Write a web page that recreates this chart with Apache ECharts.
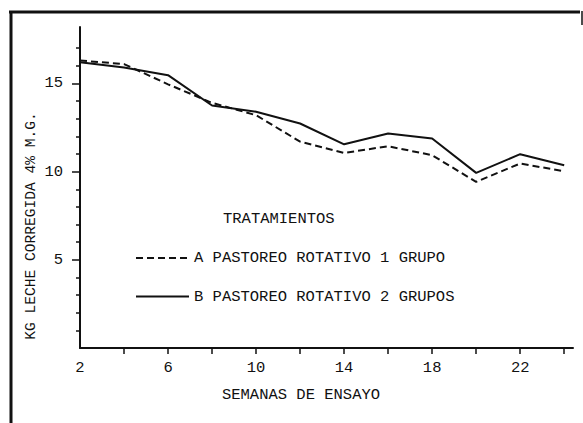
<!DOCTYPE html>
<html>
<head>
<meta charset="utf-8">
<script src="https://cdn.jsdelivr.net/npm/echarts@6/dist/echarts.min.js"></script>
<style>
html,body{margin:0;padding:0;background:#fff;}
#chart{width:583px;height:423px;}
</style>
</head>
<body>
<div id="chart"></div>
<script>
// Data
const weeks = [2, 4, 6, 8, 10, 12, 14, 16, 18, 20, 22, 24];
const seriesA = [16.3, 16.1, 14.95, 13.9, 13.2, 11.7, 11.06, 11.44, 10.93, 9.42, 10.46, 10.02]; // A PASTOREO ROTATIVO 1 GRUPO (dashed)
const seriesB = [16.2, 15.9, 15.47, 13.75, 13.4, 12.73, 11.55, 12.16, 11.88, 9.93, 10.99, 10.36]; // B PASTOREO ROTATIVO 2 GRUPOS (solid)
const nameA = 'A PASTOREO ROTATIVO 1 GRUPO';
const nameB = 'B PASTOREO ROTATIVO 2 GRUPOS';
const xTickValues = [4, 6, 8, 10, 12, 14, 16, 18, 20, 22, 24];
const xLabelValues = [2, 6, 10, 14, 18, 22];
const yMajorValues = [5, 10, 15];
const yMinorValues = [1, 2, 3, 4, 6, 7, 8, 9, 11, 12, 13, 14, 16, 17];
const xTitle = 'SEMANAS DE ENSAYO';
const yTitle = 'KG LECHE CORREGIDA 4% M.G.';
const legendTitle = 'TRATAMIENTOS';

const FONT = '"Liberation Mono", "DejaVu Sans Mono", monospace';
const INK = '#111';

const chart = echarts.init(document.getElementById('chart'), null, {renderer: 'svg'});
const pairs = (vals) => weeks.map((w, i) => [w, vals[i]]);

chart.setOption({
  backgroundColor: '#fff',
  animation: false,
  grid: {left: 80, top: 27, right: 10, bottom: 75, containLabel: false},
  xAxis: {
    type: 'value', min: 2, max: 24.4,
    axisLine: {show: true, lineStyle: {color: INK, width: 2}},
    axisTick: {show: true, customValues: xTickValues, length: 6, lineStyle: {color: INK, width: 1.5}},
    axisLabel: {customValues: xLabelValues, margin: 12, color: INK, fontFamily: FONT, fontSize: 15.5},
    splitLine: {show: false}
  },
  yAxis: [{
    type: 'value', min: 0, max: 18.2, position: 'left',
    axisLine: {show: true, lineStyle: {color: INK, width: 2}},
    axisTick: {show: true, customValues: yMajorValues, length: 8, lineStyle: {color: INK, width: 1.5}},
    axisLabel: {customValues: yMajorValues, margin: 17, color: INK, fontFamily: FONT, fontSize: 15.5},
    splitLine: {show: false}
  }, {
    type: 'value', min: 0, max: 18.2, position: 'left',
    axisLine: {show: false},
    axisTick: {show: true, customValues: yMinorValues, length: 4, lineStyle: {color: INK, width: 1.5}},
    axisLabel: {show: false},
    splitLine: {show: false}
  }],
  legend: {
    orient: 'vertical', left: 130, top: 245, itemWidth: 53, itemHeight: 14, itemGap: 22.6,
    itemStyle: {opacity: 0, color: 'transparent', borderColor: 'transparent', borderWidth: 0},
    textStyle: {color: INK, fontFamily: FONT, fontSize: 15.5},
    data: [nameA, nameB]
  },
  series: [{
    name: nameA, type: 'line', yAxisIndex: 0, data: pairs(seriesA),
    symbol: 'none', lineStyle: {color: INK, width: 2, type: [7, 4]}, itemStyle: {color: INK}
  }, {
    name: nameB, type: 'line', yAxisIndex: 0, data: pairs(seriesB),
    symbol: 'none', lineStyle: {color: INK, width: 2}, itemStyle: {color: INK}
  }],
  graphic: [
    {type: 'line', shape: {x1: 11, y1: 11, x2: 11, y2: 423}, style: {stroke: INK, lineWidth: 3}, silent: true},
    {type: 'line', shape: {x1: 9, y1: 12, x2: 580, y2: 12}, style: {stroke: INK, lineWidth: 3}, silent: true},
    {type: 'line', shape: {x1: 582, y1: 11, x2: 582, y2: 25}, style: {stroke: INK, lineWidth: 1.5}, silent: true},
    {type: 'text', x: 223, y: 219, style: {text: legendTitle, fill: INK, font: '15.5px ' + FONT, textAlign: 'left', textVerticalAlign: 'middle'}},
    {type: 'text', x: 301, y: 395, style: {text: xTitle, fill: INK, font: '15.5px ' + FONT, textAlign: 'center', textVerticalAlign: 'middle'}},
    {type: 'text', x: 31, y: 226, rotation: Math.PI / 2, style: {text: yTitle, fill: INK, font: '14.6px ' + FONT, textAlign: 'center', textVerticalAlign: 'middle'}}
  ]
});
</script>
</body>
</html>
